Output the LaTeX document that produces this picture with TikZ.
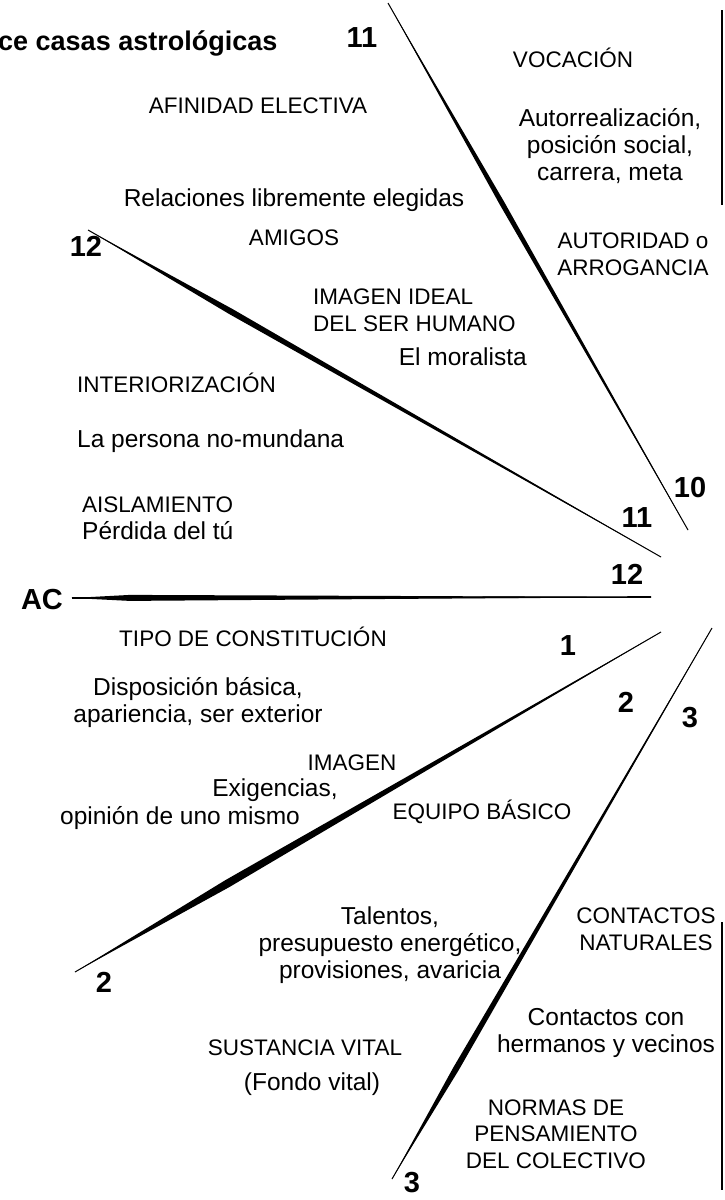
\documentclass[tikz,border=0pt]{standalone}
\usepackage{fontspec}
\setmainfont{Liberation Sans}
\usetikzlibrary{calc}

\begin{document}
\begin{tikzpicture}[x=1pt,y=-1pt,
  lbl/.style={align=center, inner sep=0pt, font=\fontsize{24.5}{27}\selectfont},
  caps/.style={align=center, inner sep=0pt, font=\fontsize{22.5}{26.5}\selectfont},
  num/.style={inner sep=0pt, font=\fontsize{29}{29}\selectfont\bfseries}]
\useasboundingbox (0,0) rectangle (724,1200);

% house cusps
\coordinate (k10a) at (388,3);
\coordinate (k10b) at (688,530);
\coordinate (k11a) at (88,230);
\coordinate (k11b) at (661,557);
\coordinate (aca) at (72,598);
\coordinate (acb) at (651,597);
\coordinate (k1a) at (661,632);
\coordinate (k1b) at (75,972);
\coordinate (k2a) at (712,628);
\coordinate (k2b) at (392,1179);

\coordinate (k10m) at ($(k10a)!0.38!(k10b)$);
\coordinate (k11m) at ($(k11a)!0.25!(k11b)$);
\coordinate (acm) at ($(aca)!0.10!(acb)$);
\coordinate (k1m) at ($(k1a)!0.74!(k1b)$);
\coordinate (k2m) at ($(k2a)!0.80!(k2b)$);

\fill (k10a) -- ($(k10m)!2.6pt!90:(k10b)$) -- (k10b) -- ($(k10m)!2.6pt!-90:(k10b)$) -- cycle;
\fill (k11a) -- ($(k11m)!3pt!90:(k11b)$) -- (k11b) -- ($(k11m)!3pt!-90:(k11b)$) -- cycle;
\fill (aca) -- ($(acm)!3pt!90:(acb)$) -- (acb) -- ($(acm)!3pt!-90:(acb)$) -- cycle;
\fill (k1a) -- ($(k1m)!4pt!90:(k1b)$) -- (k1b) -- ($(k1m)!4pt!-90:(k1b)$) -- cycle;
\fill (k2a) -- ($(k2m)!3pt!90:(k2b)$) -- (k2b) -- ($(k2m)!3pt!-90:(k2b)$) -- cycle;

\draw[line width=1pt] (k10a) -- (k10b);
\draw[line width=1pt] (k11a) -- (k11b);
\draw[line width=1.6pt] (aca) -- (acb);
\draw[line width=1pt] (k1a) -- (k1b);
\draw[line width=1pt] (k2a) -- (k2b);

% edge rules
\coordinate (ra) at (722,10);
\coordinate (rb) at (722,205);
\coordinate (rc) at (722,922);
\coordinate (rd) at (722,1190);
\draw[line width=1.2pt] (ra) -- (rb);
\draw[line width=1.2pt] (rc) -- (rd);

% title and house numbers
\node[anchor=west, inner sep=0pt, font=\fontsize{27}{27}\selectfont\bfseries] (title) at (-2,43) {ce casas astrológicas};
\node[num] (n11t) at (362,38) {11};
\node[num] (n12l) at (86,246) {12};
\node[num] (n10) at (690,488) {10};
\node[num] (n11) at (637,518) {11};
\node[num] (n12) at (627,574) {12};
\node[num] (ac) at (42,600) {AC};
\node[num] (n1) at (568,646) {1};
\node[num] (n2) at (626,702) {2};
\node[num] (n3) at (690,718) {3};
\node[num] (n2b) at (104,982) {2};
\node[num] (n3b) at (412,1183) {3};

% house 10
\node[caps] (voc) at (573,58) {VOCACIÓN};
\node[lbl] (autor) at (610,146) {Autorrealización,\\posición social,\\carrera, meta};
\node[caps] (arrog) at (633,254) {AUTORIDAD o\\ARROGANCIA};

% house 11
\node[caps] (afin) at (258,106) {AFINIDAD ELECTIVA};
\node[lbl] (relac) at (294,200) {Relaciones libremente elegidas};
\node[caps] (amigos) at (294,238) {AMIGOS};
\node[caps, anchor=west, align=left] (ideal) at (313,310) {IMAGEN IDEAL\\DEL SER HUMANO};
\node[lbl, anchor=east] (moral) at (527,357) {El moralista};

% house 12
\node[caps, anchor=west] (inter) at (77,383) {INTERIORIZACIÓN};
\node[lbl, anchor=west] (nomund) at (77,441) {La persona no-mundana};
\node[caps, anchor=west] (aisl) at (82,505) {AISLAMIENTO};
\node[lbl, anchor=west] (perd) at (82,531) {Pérdida del tú};

% house 1
\node[caps] (tipo) at (253,637) {TIPO DE CONSTITUCIÓN};
\node[lbl] (dispo) at (198,703) {Disposición básica,\\apariencia, ser exterior};
\node[caps] (imagen) at (352,763) {IMAGEN};
\node[lbl] (exig) at (275,790) {Exigencias,};
\node[lbl] (opin) at (180,818) {opinión de uno mismo};

% house 2
\node[caps] (equipo) at (482,812) {EQUIPO BÁSICO};
\node[lbl] (talent) at (390,945) {Talentos,\\presupuesto energético,\\provisiones, avaricia};
\node[caps] (sust) at (305,1048) {SUSTANCIA VITAL};
\node[lbl] (fondo) at (312,1084) {(Fondo vital)};

% house 3
\node[caps] (contac) at (646,929) {CONTACTOS\\NATURALES};
\node[lbl] (conth) at (606,1033) {Contactos con\\hermanos y vecinos};
\node[caps] (normas) at (556,1134) {NORMAS DE\\PENSAMIENTO\\DEL COLECTIVO};
\end{tikzpicture}
\end{document}
